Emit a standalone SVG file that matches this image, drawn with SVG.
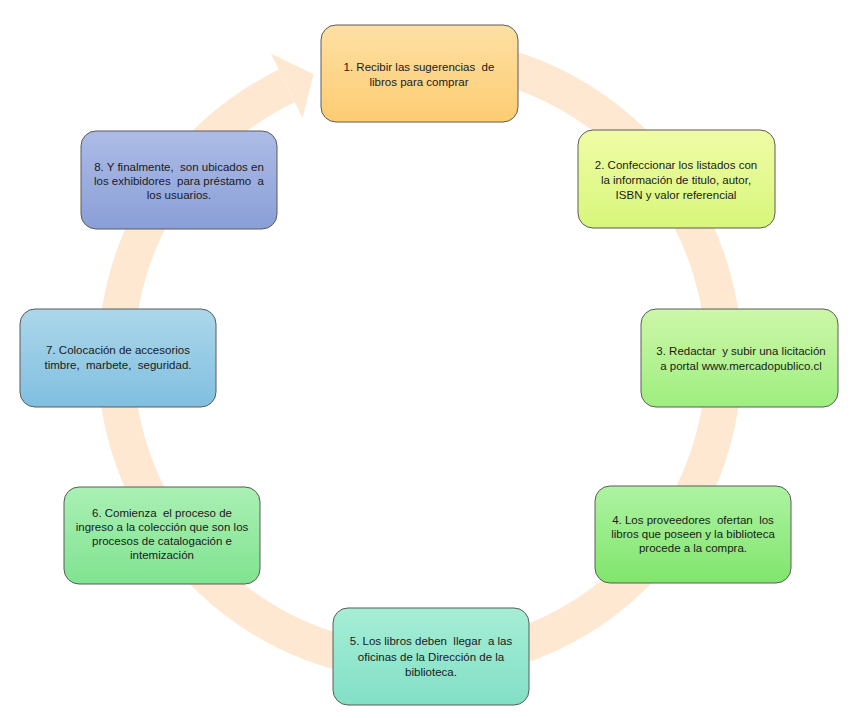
<svg xmlns="http://www.w3.org/2000/svg" width="855" height="718" viewBox="0 0 855 718">
<defs>
<linearGradient id="g1" x1="0" y1="0" x2="0" y2="1"><stop offset="0" stop-color="#fee0a4"/><stop offset="1" stop-color="#fdcc72"/></linearGradient>
<linearGradient id="g2" x1="0" y1="0" x2="0" y2="1"><stop offset="0" stop-color="#f0fca6"/><stop offset="1" stop-color="#d8f67a"/></linearGradient>
<linearGradient id="g3" x1="0" y1="0" x2="0" y2="1"><stop offset="0" stop-color="#cdf7a8"/><stop offset="1" stop-color="#9eee80"/></linearGradient>
<linearGradient id="g4" x1="0" y1="0" x2="0" y2="1"><stop offset="0" stop-color="#aef3a2"/><stop offset="1" stop-color="#80e56c"/></linearGradient>
<linearGradient id="g5" x1="0" y1="0" x2="0" y2="1"><stop offset="0" stop-color="#a6eed6"/><stop offset="1" stop-color="#82dfc6"/></linearGradient>
<linearGradient id="g6" x1="0" y1="0" x2="0" y2="1"><stop offset="0" stop-color="#aaf0b4"/><stop offset="1" stop-color="#80e390"/></linearGradient>
<linearGradient id="g7" x1="0" y1="0" x2="0" y2="1"><stop offset="0" stop-color="#acd7ea"/><stop offset="1" stop-color="#80bfe0"/></linearGradient>
<linearGradient id="g8" x1="0" y1="0" x2="0" y2="1"><stop offset="0" stop-color="#adbce6"/><stop offset="1" stop-color="#8a9fd8"/></linearGradient>
</defs>
<style>
.box{stroke:#5a5a5a;stroke-width:1}
.t{font-family:"Liberation Sans",Arial,sans-serif;font-size:11.5px;fill:#1a1a1a;text-anchor:middle;dominant-baseline:central;white-space:pre}
.ring{fill:none;stroke:#fee8d1;stroke-width:36}
.head{fill:#fee8d1}
</style>
<rect width="855" height="718" fill="#ffffff"/>
<g id="connectors">
<path class="ring" d="M331.1,68.3 A304,304 0 1 1 286.7,85.8"/>
<polygon class="head" points="270.9,53.4 313.5,74.2 302.5,118.1"/>
</g>
<g id="node1"><rect class="box" x="321" y="25" width="197" height="97" rx="15" fill="url(#g1)"/>
<text class="t" x="419" y="67">1. Recibir las sugerencias  de</text><text class="t" x="419" y="82">libros para comprar</text></g>
<g id="node2"><rect class="box" x="578" y="130" width="197" height="98" rx="15" fill="url(#g2)"/>
<text class="t" x="676" y="165">2. Confeccionar los listados con</text><text class="t" x="676" y="180">la información de titulo, autor,</text><text class="t" x="676" y="195">ISBN y valor referencial</text></g>
<g id="node3"><rect class="box" x="641" y="309" width="197" height="98" rx="15" fill="url(#g3)"/>
<text class="t" x="741" y="351">3. Redactar  y subir una licitación</text><text class="t" x="741" y="366">a portal www.mercadopublico.cl</text></g>
<g id="node4"><rect class="box" x="595" y="486" width="196" height="97" rx="15" fill="url(#g4)"/>
<text class="t" x="693" y="520">4. Los proveedores  ofertan  los</text><text class="t" x="693" y="534">libros que poseen y la biblioteca</text><text class="t" x="693" y="548">procede a la compra.</text></g>
<g id="node5"><rect class="box" x="333" y="608" width="196" height="97" rx="15" fill="url(#g5)"/>
<text class="t" x="431" y="641">5. Los libros deben  llegar  a las</text><text class="t" x="431" y="657">oficinas de la Dirección de la</text><text class="t" x="431" y="672">biblioteca.</text></g>
<g id="node6"><rect class="box" x="64" y="487" width="196" height="97" rx="15" fill="url(#g6)"/>
<text class="t" x="162" y="513">6. Comienza  el proceso de</text><text class="t" x="162" y="527">ingreso a la colección que son los</text><text class="t" x="162" y="541">procesos de catalogación e</text><text class="t" x="162" y="555">intemización</text></g>
<g id="node7"><rect class="box" x="20" y="309" width="196" height="98" rx="15" fill="url(#g7)"/>
<text class="t" x="118" y="350">7. Colocación de accesorios</text><text class="t" x="118" y="365">timbre,  marbete,  seguridad.</text></g>
<g id="node8"><rect class="box" x="81" y="131" width="196" height="98" rx="15" fill="url(#g8)"/>
<text class="t" x="179" y="167">8. Y finalmente,  son ubicados en</text><text class="t" x="179" y="181">los exhibidores  para préstamo  a</text><text class="t" x="179" y="195">los usuarios.</text></g>
</svg>
